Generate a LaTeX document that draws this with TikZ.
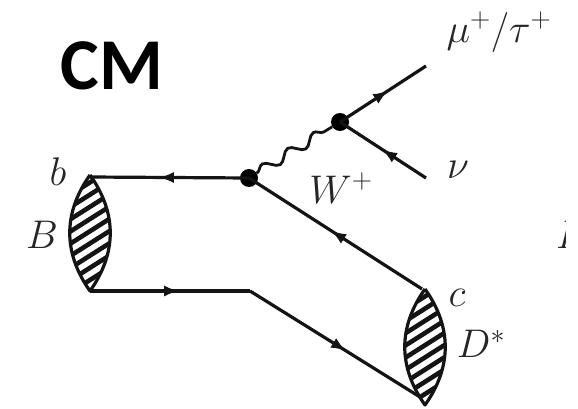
\RequirePackage{fix-cm}
\documentclass[tikz,border=0pt]{standalone}
\usepackage{fontspec}
\usetikzlibrary{decorations.pathmorphing,decorations.markings,arrows.meta}
\newfontfamily\cmfont{Carlito}
\tikzset{
  x=1pt,y=-1pt,
  fline/.style={line width=3.2pt,black!92},
  vtx/.style={circle,fill=black,inner sep=0pt,minimum size=18pt},
  lbl/.style={inner sep=0pt,text=black!85,font=\fontsize{40}{44}\selectfont},
  fwd/.style={postaction={decorate,decoration={markings,mark=at position #1 with {\arrow[line width=1pt]{Latex[length=14pt,width=11pt]}}}}},
}
\newcommand{\blob}[2]{%
  \begin{scope}
    \clip (#1,#2) .. controls (#1-27,#2+38) and (#1-27,#2+78) .. (#1,#2+116) .. controls (#1+27,#2+78) and (#1+27,#2+38) .. (#1,#2);
    \foreach \k in {0,...,12}{
      \draw[line width=4.6pt,black!92] (#1-30,#2+\k*12.2+2) -- ++(60,-38);
    }
  \end{scope}
  \draw[line width=3.2pt,black!92,line join=round] (#1,#2) .. controls (#1-27,#2+38) and (#1-27,#2+78) .. (#1,#2+116) .. controls (#1+27,#2+78) and (#1+27,#2+38) .. (#1,#2);
}
\begin{document}
\begin{tikzpicture}
\useasboundingbox (0,0) rectangle (578,409);
\fill[white] (0,0) rectangle (578,409);
\blob{90}{175}
\blob{425}{289}
\coordinate (bt) at (90,177);
\coordinate (bb) at (90,291);
\coordinate (ct) at (422,289);
\coordinate (cb) at (420,397);
\coordinate (bend) at (250,291);
\coordinate (mu) at (426,66);
\coordinate (nu) at (426,178);
\node[vtx] (v1) at (249,178) {};
\node[vtx] (v2) at (340,122) {};
\draw[fline,fwd=0.56] (v1.center) -- (bt);
\draw[fline,fwd=0.55] (bb) -- (bend);
\draw[fline,fwd=0.56] (bend) -- (cb);
\draw[fline,fwd=0.52] (ct) -- (v1.center);
\draw[fline,fwd=0.55] (v2.center) -- (mu);
\draw[fline,fwd=0.5] (nu) -- (v2.center);
\draw[line width=2.8pt,black!92,decorate,decoration={snake,segment length=30pt,amplitude=5pt}] (v1) -- (v2);
\node[lbl] (tb) at (58,172) {$b$};
\node[lbl] (tB) at (42,235) {$B$};
\node[lbl] (tc) at (457,298) {$c$};
\node[lbl] (tD) at (481,344) {$D^*$};
\node[lbl] (tW) at (341,188) {$W^+$};
\node[lbl] (tnu) at (458,170) {$\nu$};
\node[lbl] (tmu) at (499,32) {$\mu^+/\tau^+$};
\node[lbl,anchor=west] (tF) at (556,235) {$B$};
\fill[white] (566,200) rectangle (578,270);
\node[inner sep=0pt,font=\cmfont\bfseries\fontsize{73}{75}\selectfont] (cm) at (112,66) {CM};
\end{tikzpicture}
\end{document}
